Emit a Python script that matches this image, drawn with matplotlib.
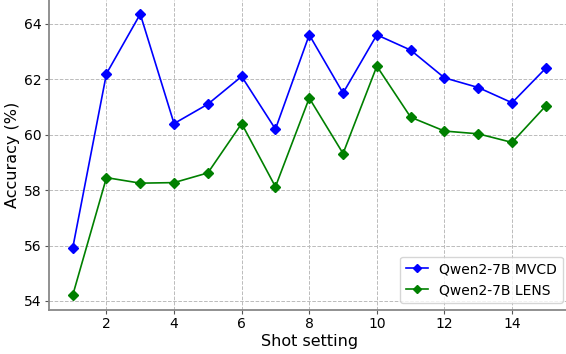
import numpy as np
import matplotlib.pyplot as plt

# dati
shots = list(range(1, 16))
mvcd = [55.9, 62.2, 64.35, 60.4, 61.1, 62.1, 60.2, 63.6, 61.5, 63.6, 63.05, 62.05, 61.7, 61.15, 62.4]
lens = [54.2, 58.45, 58.25, 58.27, 58.62, 60.4, 58.12, 61.32, 59.32, 62.47, 60.63, 60.13, 60.03, 59.72, 61.04]

fig = plt.figure(figsize=(5.66, 3.54), dpi=100)
# il grafico originale era ritagliato a destra, quindi gli assi escono un po' dalla figura
ax = fig.add_axes([49 / 566, 44.5 / 354, 520.5 / 566, 309.5 / 354])

ax.plot(shots, mvcd, marker="D", markersize=5, color="blue", linewidth=1.2, label="Qwen2-7B MVCD")
ax.plot(shots, lens, marker="D", markersize=5, color="green", linewidth=1.2, label="Qwen2-7B LENS")

ax.set_xticks([2, 4, 6, 8, 10, 12, 14])
ax.set_yticks([54, 56, 58, 60, 62, 64])
ax.tick_params(labelsize=10, color="#555555", length=3, pad=2.5)
ax.set_xlabel("Shot setting", fontsize=11.5, labelpad=2)
ax.set_ylabel("Accuracy (%)", fontsize=11.5, labelpad=3)
ax.grid(True, linestyle="--", color="#bbbbbb", linewidth=0.7)

for s in ["top", "right"]:
    ax.spines[s].set_visible(False)
for s in ["left", "bottom"]:
    ax.spines[s].set_color("#888888")
    ax.spines[s].set_linewidth(1.3)

ax.legend(loc="lower right", fontsize=10, markerscale=0.8, handlelength=1.6)

fig.savefig("out.png", dpi=100)
